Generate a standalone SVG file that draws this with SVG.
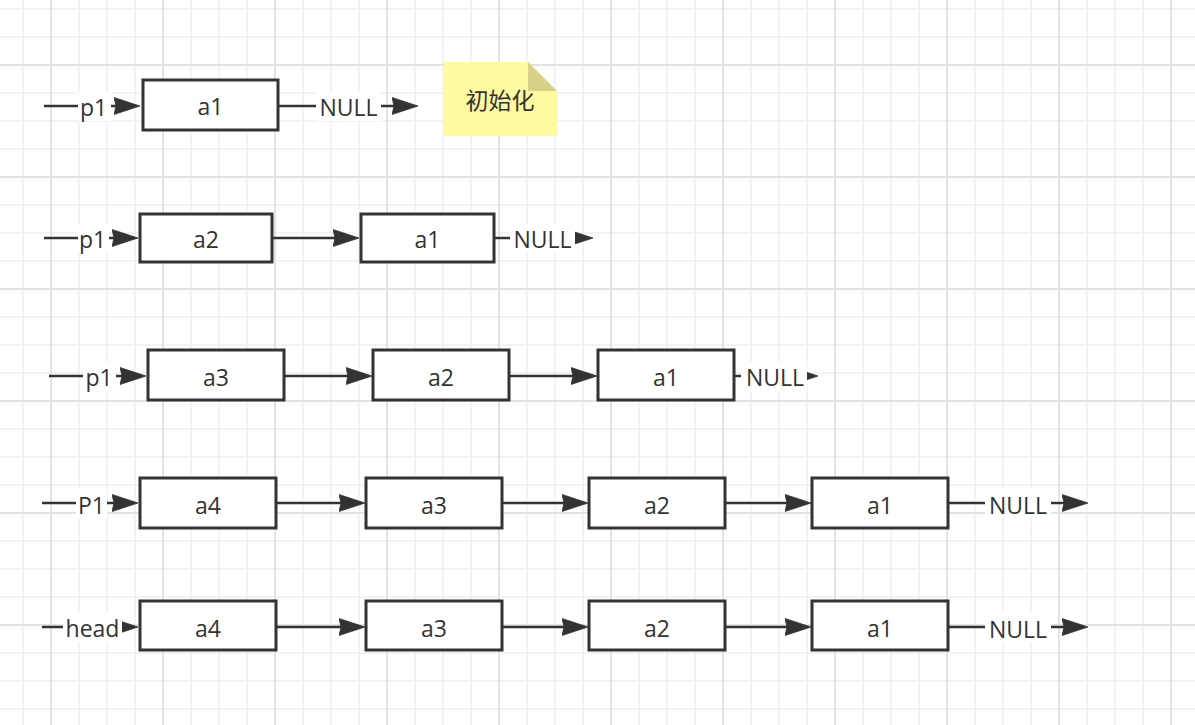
<svg xmlns="http://www.w3.org/2000/svg" width="1195" height="725" viewBox="0 0 1195 725">
<defs>
<style>
.gmin{stroke:#efefef;stroke-width:1.5;fill:none}
.gmaj{stroke:#e3e3e3;stroke-width:2;fill:none}
.box{fill:#ffffff;stroke:#333333;stroke-width:3}
.t{font-family:"Open Sans","Noto Sans","Noto Sans CJK SC",sans-serif;font-size:23px;fill:#333333;text-anchor:middle}
.arr{stroke:#333333;stroke-width:2.5;fill:none;marker-end:url(#ah)}
.lbg{fill:#ffffff}
</style>
<marker id="ah" markerUnits="userSpaceOnUse" markerWidth="28" markerHeight="20" viewBox="0 0 28 20" refX="6" refY="10" orient="auto">
<path d="M0,1.5 L26,10 L0,18.5 L2,10 Z" fill="#333333" stroke="#333333" stroke-width="0.8" stroke-linejoin="round"/>
</marker>
</defs>
<rect width="1195" height="725" fill="#ffffff"/>
<g id="grid">
<path class="gmin" d="M23 0V725M79 0V725M107 0V725M135 0V725M191 0V725M219 0V725M247 0V725M303 0V725M331 0V725M359 0V725M415 0V725M443 0V725M471 0V725M527 0V725M555 0V725M583 0V725M639 0V725M667 0V725M695 0V725M751 0V725M779 0V725M807 0V725M863 0V725M891 0V725M919 0V725M975 0V725M1003 0V725M1031 0V725M1087 0V725M1115 0V725M1143 0V725"/>
<path class="gmin" d="M0 9H1195M0 37H1195M0 93H1195M0 121H1195M0 149H1195M0 205H1195M0 233H1195M0 261H1195M0 317H1195M0 345H1195M0 373H1195M0 429H1195M0 457H1195M0 485H1195M0 541H1195M0 569H1195M0 597H1195M0 653H1195M0 681H1195M0 709H1195"/>
<path class="gmaj" d="M51 0V725M163 0V725M275 0V725M387 0V725M499 0V725M611 0V725M723 0V725M835 0V725M947 0V725M1059 0V725M1171 0V725"/>
<path class="gmaj" d="M0 65H1195M0 177H1195M0 289H1195M0 401H1195M0 513H1195M0 625H1195"/>
</g>
<g id="connectors">
<!-- row 1 -->
<line class="arr" x1="44" y1="106" x2="120" y2="106"/>
<rect class="lbg" x="78" y="92" width="33" height="29"/>
<text class="t" x="93.5" y="116">p1</text>
<line class="arr" x1="279" y1="106" x2="398" y2="106"/>
<rect class="lbg" x="316" y="92" width="65" height="29"/>
<text class="t" x="348.5" y="116">NULL</text>
<!-- row 2 -->
<line class="arr" x1="44" y1="238" x2="118" y2="238"/>
<rect class="lbg" x="78" y="224" width="31" height="29"/>
<text class="t" x="92.5" y="248">p1</text>
<line class="arr" x1="273" y1="238" x2="339" y2="238"/>
<line class="arr" x1="495" y1="238" x2="573" y2="238"/>
<rect class="lbg" x="510" y="224" width="65" height="29"/>
<text class="t" x="542.5" y="248">NULL</text>
<!-- row 3 -->
<line class="arr" x1="49" y1="376" x2="126" y2="376"/>
<rect class="lbg" x="83" y="362" width="33" height="29"/>
<text class="t" x="99" y="386">p1</text>
<line class="arr" x1="285" y1="376" x2="352" y2="376"/>
<line class="arr" x1="510" y1="376" x2="577" y2="376"/>
<line class="arr" x1="735" y1="376" x2="798" y2="376"/>
<rect class="lbg" x="741" y="362" width="66" height="29"/>
<text class="t" x="775" y="386">NULL</text>
<!-- row 4 -->
<line class="arr" x1="42" y1="503" x2="118" y2="503"/>
<rect class="lbg" x="76" y="489" width="31" height="29"/>
<text class="t" x="91.5" y="514">P1</text>
<line class="arr" x1="277" y1="503" x2="345" y2="503"/>
<line class="arr" x1="503" y1="503" x2="568" y2="503"/>
<line class="arr" x1="726" y1="503" x2="791" y2="503"/>
<line class="arr" x1="949" y1="503" x2="1068" y2="503"/>
<rect class="lbg" x="985" y="489" width="66" height="29"/>
<text class="t" x="1018" y="514">NULL</text>
<!-- row 5 -->
<line class="arr" x1="42" y1="627" x2="118" y2="627"/>
<rect class="lbg" x="63" y="613" width="59" height="29"/>
<text class="t" x="92.5" y="637">head</text>
<line class="arr" x1="277" y1="627" x2="345" y2="627"/>
<line class="arr" x1="503" y1="627" x2="568" y2="627"/>
<line class="arr" x1="726" y1="627" x2="791" y2="627"/>
<line class="arr" x1="949" y1="627" x2="1068" y2="627"/>
<rect class="lbg" x="985" y="613" width="66" height="29"/>
<text class="t" x="1018" y="638">NULL</text>
</g>
<g id="note">
<path d="M444 62 H528 L557 91 V136 H444 Z" fill="#fff9a0"/>
<path d="M528 62 L557 91 H528 Z" fill="#d6d184"/>
<text class="t" x="500" y="109">初始化</text>
</g>
<g id="r1a1"><rect class="box" x="143" y="80" width="135" height="50"/><text class="t" x="210.5" y="115">a1</text></g>
<g id="r2a2"><rect class="box" x="140" y="214" width="132" height="48"/><text class="t" x="206" y="248">a2</text></g>
<g id="r2a1"><rect class="box" x="361" y="214" width="133" height="48"/><text class="t" x="427.5" y="248">a1</text></g>
<g id="r3a3"><rect class="box" x="148" y="350" width="136" height="50"/><text class="t" x="216" y="386">a3</text></g>
<g id="r3a2"><rect class="box" x="373" y="350" width="136" height="50"/><text class="t" x="441" y="386">a2</text></g>
<g id="r3a1"><rect class="box" x="598" y="350" width="136" height="50"/><text class="t" x="666" y="386">a1</text></g>
<g id="r4a4"><rect class="box" x="140" y="478" width="136" height="50"/><text class="t" x="208" y="514">a4</text></g>
<g id="r4a3"><rect class="box" x="366" y="478" width="136" height="50"/><text class="t" x="434" y="514">a3</text></g>
<g id="r4a2"><rect class="box" x="589" y="478" width="136" height="50"/><text class="t" x="657" y="514">a2</text></g>
<g id="r4a1"><rect class="box" x="812" y="478" width="136" height="50"/><text class="t" x="880" y="514">a1</text></g>
<g id="r5a4"><rect class="box" x="140" y="601" width="136" height="49"/><text class="t" x="208" y="637">a4</text></g>
<g id="r5a3"><rect class="box" x="366" y="601" width="136" height="49"/><text class="t" x="434" y="637">a3</text></g>
<g id="r5a2"><rect class="box" x="589" y="601" width="136" height="49"/><text class="t" x="657" y="637">a2</text></g>
<g id="r5a1"><rect class="box" x="812" y="601" width="136" height="49"/><text class="t" x="880" y="637">a1</text></g>
</svg>
